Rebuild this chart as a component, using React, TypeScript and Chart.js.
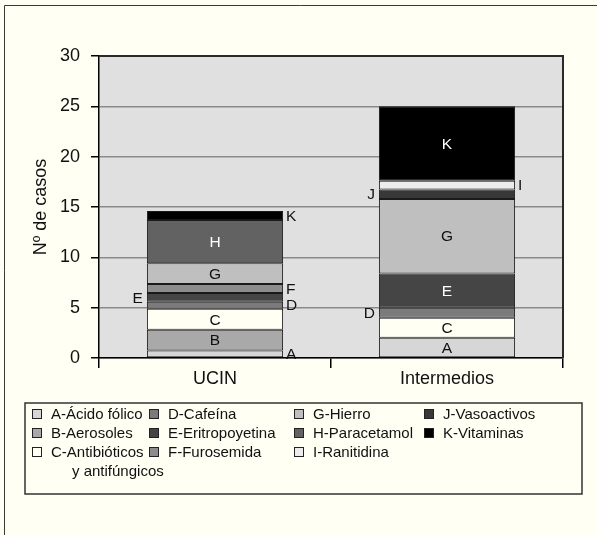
import React, { useEffect, useRef } from "react";
import { Chart, registerables } from "chart.js";

Chart.register(...registerables);

// ---- data ----
const categories = ["UCIN", "Intermedios"];
const yTicks = [0, 5, 10, 15, 20, 25, 30];

const valuesA = [0.75, 2.0];
const valuesB = [2.05, null];
const valuesC = [2.1, 2.0];
const valuesD = [0.7, 1.0];
const valuesE = [0.85, 3.4];
const valuesF = [0.9, null];
const valuesG = [2.05, 7.4];
const valuesH = [4.3, null];
const valuesI = [null, 0.85];
const valuesJ = [null, 0.95];
const valuesK = [0.9, 7.4];

const legendLabels = [
  "A-Ácido fólico",
  "B-Aerosoles",
  "C-Antibióticos\ny antifúngicos",
  "D-Cafeína",
  "E-Eritropoyetina",
  "F-Furosemida",
  "G-Hierro",
  "H-Paracetamol",
  "I-Ranitidina",
  "J-Vasoactivos",
  "K-Vitaminas",
];
const letters = ["A", "B", "C", "D", "E", "F", "G", "H", "I", "J", "K"];
const seriesValues = [valuesA, valuesB, valuesC, valuesD, valuesE, valuesF, valuesG, valuesH, valuesI, valuesJ, valuesK];

// ---- styles ----
const fills: Record<string, string> = {
  A: "#d6d6d6",
  B: "#a9a9a9",
  C: "#fffff4",
  D: "#7b7b7b",
  E: "#454545",
  F: "#8c8c8c",
  G: "#bfbfbf",
  H: "#626262",
  I: "#ececec",
  J: "#383838",
  K: "#000000",
};
const darkFill: Record<string, boolean> = { E: true, H: true, J: true, K: true };
// stacking order bottom -> top
const stackOrder = ["A", "B", "C", "D", "E", "F", "G", "H", "J", "I", "K"];
// label placement per category
const placement: Record<string, string[]> = {
  A: ["right", "in"],
  B: ["in", "in"],
  C: ["in", "in"],
  D: ["right", "left"],
  E: ["left", "in"],
  F: ["right", "in"],
  G: ["in", "in"],
  H: ["in", "in"],
  I: ["right", "right"],
  J: ["left", "left"],
  K: ["right", "in"],
};

const FONT = "'Liberation Sans', Arial, Helvetica, sans-serif";
const BG = "#fffff4";

const bgPlugin = {
  id: "bgPlugin",
  beforeDraw(chart: any) {
    const { ctx, chartArea } = chart;
    ctx.save();
    ctx.fillStyle = BG;
    ctx.fillRect(0, 0, chart.width, chart.height);
    ctx.strokeStyle = "#3a3a3a";
    ctx.lineWidth = 1;
    ctx.beginPath();
    ctx.moveTo(4.5, chart.height);
    ctx.lineTo(4.5, 5.5);
    ctx.lineTo(chart.width, 5.5);
    ctx.stroke();
    ctx.fillStyle = "#e0e0e0";
    ctx.fillRect(chartArea.left, chartArea.top, chartArea.right - chartArea.left, chartArea.bottom - chartArea.top);
    ctx.restore();
  },
  afterDraw(chart: any) {
    const { ctx, chartArea } = chart;
    ctx.save();
    ctx.strokeStyle = "#2a2a2a";
    ctx.lineWidth = 2;
    ctx.beginPath();
    ctx.moveTo(chartArea.left, chartArea.top);
    ctx.lineTo(chartArea.right, chartArea.top);
    ctx.lineTo(chartArea.right, chartArea.bottom);
    ctx.stroke();
    ctx.restore();
  },
};

const segLabelPlugin = {
  id: "segLabelPlugin",
  afterDatasetsDraw(chart: any) {
    const { ctx } = chart;
    ctx.save();
    ctx.font = `15.5px ${FONT}`;
    ctx.textBaseline = "middle";
    chart.data.datasets.forEach((ds: any, i: number) => {
      const meta = chart.getDatasetMeta(i);
      const letter = ds.letter as string;
      meta.data.forEach((el: any, j: number) => {
        if (ds.data[j] == null) return;
        const yc = (el.y + el.base) / 2;
        const pos = placement[letter][j];
        const half = el.width / 2;
        if (pos === "in") {
          ctx.textAlign = "center";
          ctx.fillStyle = darkFill[letter] ? "#ffffff" : "#111111";
          ctx.fillText(letter, el.x, yc + 1);
        } else if (pos === "right") {
          ctx.textAlign = "left";
          ctx.fillStyle = "#111111";
          ctx.fillText(letter, el.x + half + 3, yc + 1);
        } else {
          ctx.textAlign = "right";
          ctx.fillStyle = "#111111";
          ctx.fillText(letter, el.x - half - 4, yc + 1);
        }
      });
    });
    ctx.restore();
  },
};

const legendPlugin = {
  id: "legendPlugin",
  afterDraw(chart: any) {
    const { ctx } = chart;
    ctx.save();
    // box
    ctx.strokeStyle = "#333333";
    ctx.lineWidth = 1.5;
    ctx.strokeRect(25, 403, 557, 91);
    const colX = [32, 149, 294, 424];
    const rowY = [413.5, 432.5, 451.5, 470.5];
    const columns = [
      ["A", "B", "C"],
      ["D", "E", "F"],
      ["G", "H", "I"],
      ["J", "K"],
    ];
    ctx.font = `15px ${FONT}`;
    ctx.textBaseline = "middle";
    columns.forEach((col, ci) => {
      col.forEach((letter, ri) => {
        const idx = letters.indexOf(letter);
        const x = colX[ci];
        const y = rowY[ri];
        ctx.fillStyle = fills[letter];
        ctx.fillRect(x, y - 4.5, 9, 9);
        ctx.strokeStyle = "#222222";
        ctx.lineWidth = 1;
        ctx.strokeRect(x + 0.5, y - 4.5 + 0.5, 9, 9);
        ctx.fillStyle = "#111111";
        const lines = legendLabels[idx].split("\n");
        ctx.textAlign = "left";
        ctx.fillText(lines[0], x + 19, y + 1);
        if (lines.length > 1) {
          ctx.fillText(lines[1], x + 40, rowY[ri + 1] + 1);
        }
      });
    });
    ctx.restore();
  },
};

export default function App() {
  const canvasRef = useRef<HTMLCanvasElement | null>(null);

  useEffect(() => {
    if (!canvasRef.current) return;
    const datasets = stackOrder.map((letter) => {
      const idx = letters.indexOf(letter);
      return {
        label: legendLabels[idx],
        letter,
        data: seriesValues[idx],
        backgroundColor: fills[letter],
        borderColor: "#1a1a1a",
        borderWidth: 1,
        borderSkipped: false,
        categoryPercentage: 1,
        barPercentage: 0.587,
      };
    });
    const chart = new Chart(canvasRef.current, {
      type: "bar",
      data: { labels: categories, datasets: datasets as any },
      options: {
        animation: false,
        responsive: false,
        devicePixelRatio: 1,
        layout: { padding: { left: 0, top: 56, right: 34, bottom: 137 } },
        plugins: { legend: { display: false }, tooltip: { enabled: false } },
        scales: {
          x: {
            stacked: true,
            offset: true,
            grid: {
              offset: true,
              drawOnChartArea: false,
              tickLength: 10,
              tickColor: "#000",
              lineWidth: 1.5,
            },
            border: { color: "#000", width: 1.5 },
            ticks: { font: { family: FONT, size: 18 }, color: "#111", padding: 0 },
            afterFit(scale: any) {
              scale.height = 40;
            },
          },
          y: {
            stacked: true,
            min: 0,
            max: 30,
            afterBuildTicks(scale: any) {
              scale.ticks = yTicks.map((v) => ({ value: v }));
            },
            grid: { color: "#8a8a8a", lineWidth: 1.5, tickLength: 8, tickColor: "#000" },
            border: { color: "#000", width: 1.5 },
            ticks: { font: { family: FONT, size: 18 }, color: "#111", padding: 11 },
            title: {
              display: true,
              text: "Nº de casos",
              font: { family: FONT, size: 18 },
              color: "#111",
              padding: { top: 30, bottom: 0 },
            },
            afterFit(scale: any) {
              scale.width = 99;
            },
          },
        },
      },
      plugins: [bgPlugin, segLabelPlugin, legendPlugin],
    } as any);
    return () => chart.destroy();
  }, []);

  return (
    <div style={{ position: "absolute", left: 0, top: 0, width: 597, height: 535 }}>
      <canvas ref={canvasRef} width={597} height={535} />
    </div>
  );
}
